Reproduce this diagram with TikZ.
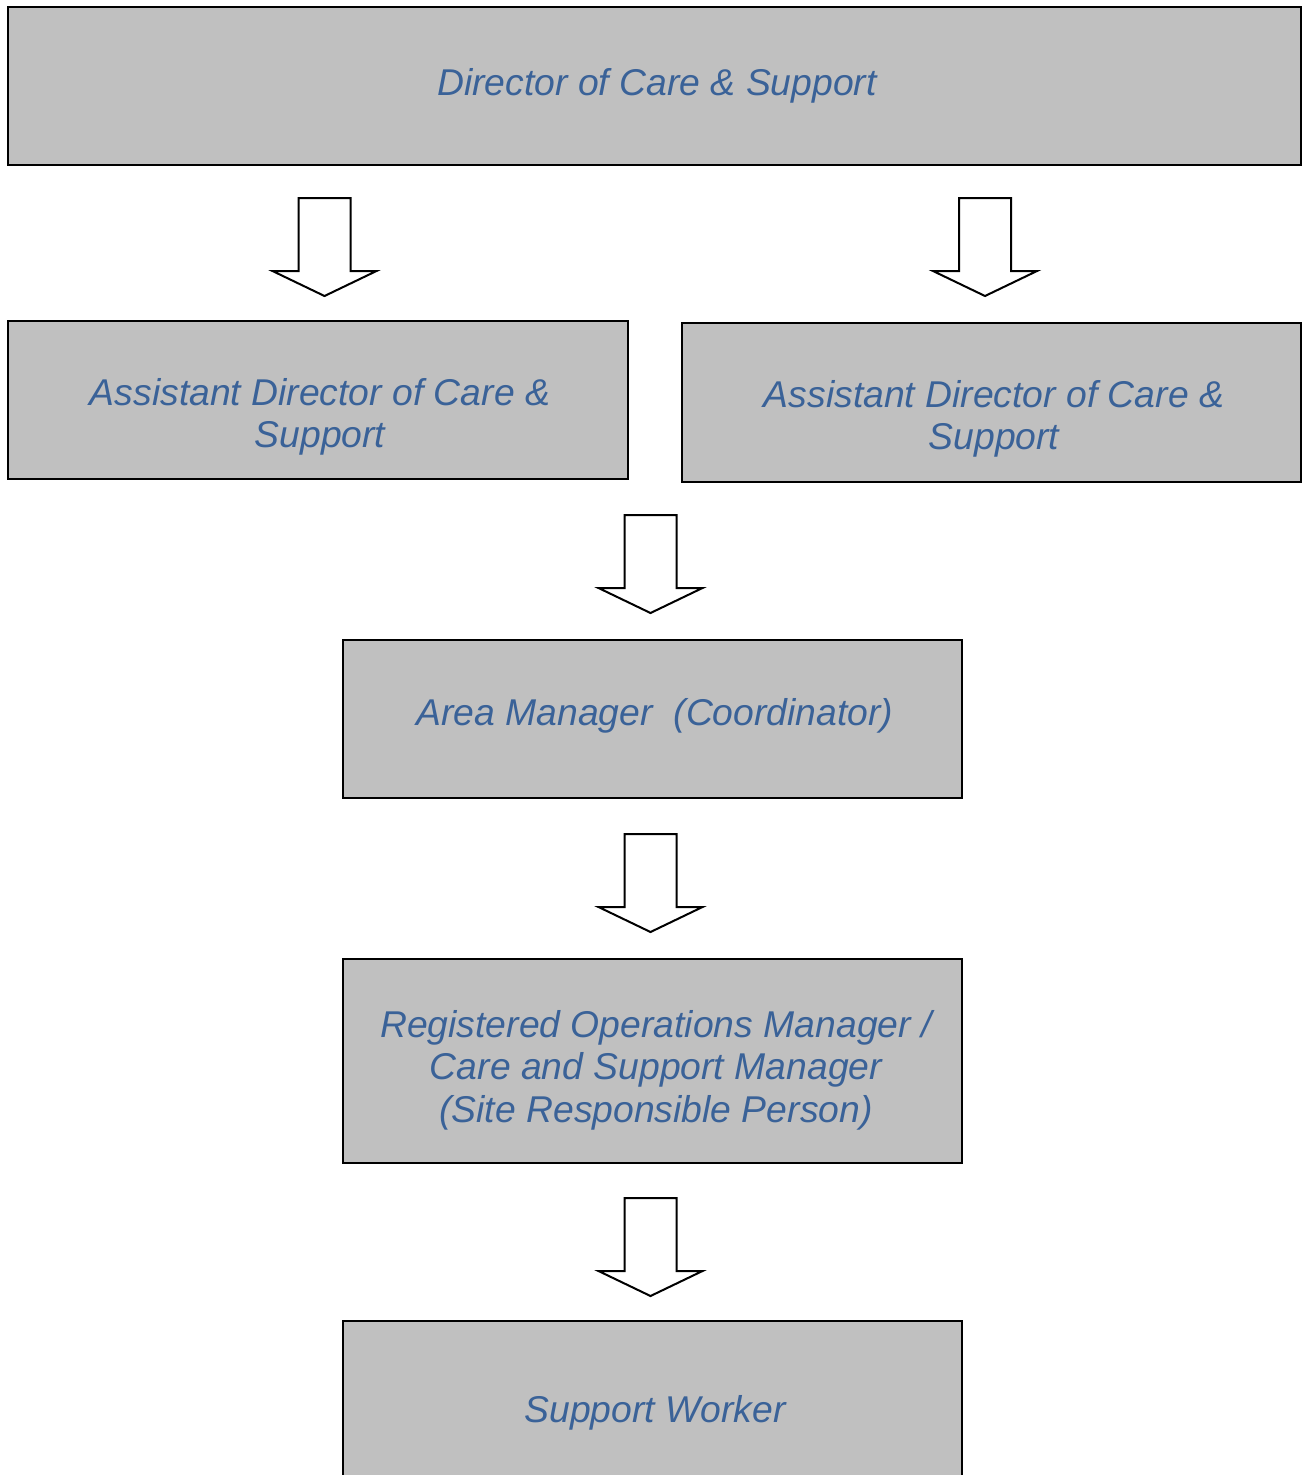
\documentclass[tikz,border=0pt]{standalone}
\usepackage{fontspec}
\setmainfont{Liberation Sans}
\definecolor{boxgray}{HTML}{C0C0C0}
\definecolor{txtblue}{HTML}{3A6298}
\begin{document}
\begin{tikzpicture}[x=1pt,y=-1pt,
  box/.style={draw=black,line width=2pt,fill=boxgray},
  lbl/.style={text=txtblue,font=\fontsize{37.3}{42.5}\selectfont\itshape,align=center,inner sep=0pt},
  blockarrow/.style={draw=black,line width=2pt,fill=white,line join=miter}]
\useasboundingbox (0,0) rectangle (1303,1475);
% boxes
\draw[box] (8,7) rectangle (1301,165);
\draw[box] (8,321) rectangle (628,479);
\draw[box] (682,323) rectangle (1301,482);
\draw[box] (343,640) rectangle (962,798);
\draw[box] (343,959) rectangle (962,1163);
\fill[boxgray] (344,1322) rectangle (961,1476);
\draw[line width=2pt] (343,1480) -- (343,1321) -- (962,1321) -- (962,1480);
% texts
\node[lbl] (t1) at (657,86) {Director of Care \& Support};
\node[lbl] (t2) at (320,417) {Assistant Director of Care \&\\Support};
\node[lbl] (t3) at (994,419) {Assistant Director of Care \&\\Support};
\node[lbl] (t4) at (655,716) {Area Manager\ \ (Coordinator)};
\node[lbl] (t5) at (656,1070) {Registered Operations Manager /\\Care and Support Manager\\(Site Responsible Person)};
\node[lbl] (t6) at (655,1413) {Support Worker};
% block arrows
\newcommand{\blockarr}[2]{%
  \draw[blockarrow] ({#1-26},#2) -- ({#1+26},#2) -- ({#1+26},{#2+73}) -- ({#1+52},{#2+73})
    -- (#1,{#2+98}) -- ({#1-52},{#2+73}) -- ({#1-26},{#2+73}) -- cycle;}
\blockarr{324.5}{198}
\blockarr{985}{198}
\blockarr{650.5}{515}
\blockarr{650.5}{834}
\blockarr{650.5}{1198}
\end{tikzpicture}
\end{document}
